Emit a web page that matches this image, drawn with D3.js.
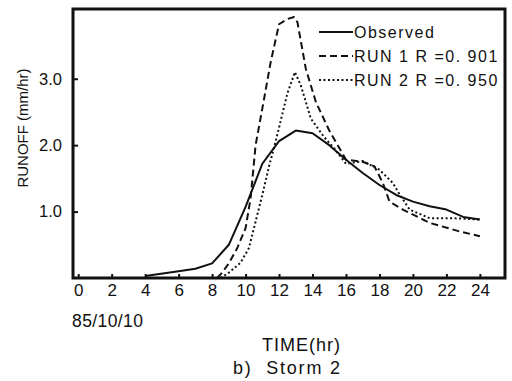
<!DOCTYPE html>
<html>
<head>
<meta charset="utf-8">
<script src="https://cdn.jsdelivr.net/npm/d3@7"></script>
<style>
  body { margin: 0; background: #fff; }
  svg text { font-family: "Liberation Sans", Arial, sans-serif; fill: #111; }
</style>
</head>
<body>
<svg id="chart" width="512" height="381"></svg>
<script>
// hours / runoff (mm/hr)
const observedT = [4, 6, 7, 8, 9, 10, 11, 12, 13, 14, 15, 16, 17, 18, 19, 20, 21, 22, 23, 24];
const observedV = [0.03, 0.1, 0.14, 0.22, 0.5, 1.07, 1.72, 2.06, 2.22, 2.18, 2.0, 1.78, 1.58, 1.4, 1.25, 1.15, 1.08, 1.03, 0.92, 0.88];

const run1T = [8.3, 8.6, 9, 9.5, 10, 10.3, 10.6, 11, 11.5, 12, 12.5, 12.9, 13.1, 13.6, 14.2, 15, 16, 17, 17.7, 18.2, 18.6, 19.4, 21, 22.8, 24];
const run1V = [0, 0.08, 0.22, 0.45, 0.75, 1.2, 2.0, 2.55, 3.25, 3.82, 3.9, 3.93, 3.85, 3.15, 2.65, 2.22, 1.78, 1.75, 1.68, 1.43, 1.15, 1.03, 0.83, 0.7, 0.63];

const run2T = [8.5, 9, 9.7, 10.2, 10.6, 11, 11.4, 11.8, 12.5, 12.95, 13.3, 13.9, 14.7, 15.3, 16, 17, 18, 18.8, 19.2, 19.8, 21, 22.4, 24];
const run2V = [0, 0.08, 0.23, 0.45, 0.85, 1.25, 1.68, 2.06, 2.78, 3.1, 2.9, 2.4, 2.12, 1.95, 1.72, 1.76, 1.63, 1.43, 1.26, 1.03, 0.9, 0.9, 0.88];

const xTicks = [0, 2, 4, 6, 8, 10, 12, 14, 16, 18, 20, 22, 24];
const yTicks = [1.0, 2.0, 3.0];
const legendLabels = ["Observed", "RUN 1 R =0. 901", "RUN 2 R =0. 950"];

const box = { left: 73, top: 9, right: 505, bottom: 278 };
const svg = d3.select("#chart");

const x = d3.scaleLinear().domain([-0.31, 25.5]).range([box.left, box.right]);
const y = d3.scaleLinear().domain([0, 4.05]).range([box.bottom, box.top]);

//Axes (ticks point inward, box drawn separately)
const xAxis = d3.axisBottom(x).tickValues(xTicks).tickSizeInner(-4).tickSizeOuter(0).tickPadding(6);
svg.append("g")
    .attr("transform", `translate(0, ${box.bottom})`)
    .call(xAxis)
    .call(g => g.select(".domain").remove())
    .call(g => g.selectAll(".tick line").attr("stroke", "#111").attr("stroke-width", 2))
    .call(g => g.selectAll(".tick text").attr("font-size", 17).attr("fill", "#111"));

const yAxis = d3.axisLeft(y).tickValues(yTicks).tickFormat(d3.format(".1f")).tickSizeInner(-5).tickSizeOuter(0).tickPadding(11);
svg.append("g")
    .attr("transform", `translate(${box.left}, 0)`)
    .call(yAxis)
    .call(g => g.select(".domain").remove())
    .call(g => g.selectAll(".tick line").attr("stroke", "#111").attr("stroke-width", 2))
    .call(g => g.selectAll(".tick text").attr("font-size", 16.5).attr("fill", "#111"));

svg.append("rect")
    .attr("x", box.left).attr("y", box.top)
    .attr("width", box.right - box.left).attr("height", box.bottom - box.top)
    .attr("fill", "none").attr("stroke", "#111").attr("stroke-width", 3);

//Series
const series = [
    { t: observedT, v: observedV, dash: null, w: 2 },
    { t: run1T, v: run1V, dash: "7,4", w: 2 },
    { t: run2T, v: run2V, dash: "2,2.5", w: 2 },
];
const line = d3.line().x(d => x(d[0])).y(d => y(d[1])).curve(d3.curveLinear);
series.forEach(s => {
    svg.append("path")
        .attr("d", line(d3.zip(s.t, s.v)))
        .attr("fill", "none")
        .attr("stroke", "#111")
        .attr("stroke-width", s.w)
        .attr("stroke-dasharray", s.dash)
        .attr("stroke-linejoin", "round");
});

//Legend
const legend = svg.append("g").attr("transform", "translate(319, 32)");
legendLabels.forEach((lbl, i) => {
    const row = legend.append("g").attr("transform", `translate(0, ${i * 24})`);
    row.append("line")
        .attr("x1", 0).attr("x2", 34).attr("y1", 0).attr("y2", 0)
        .attr("stroke", "#111").attr("stroke-width", 2)
        .attr("stroke-dasharray", series[i].dash);
    row.append("text")
        .attr("x", 35).attr("y", 6)
        .attr("font-size", 16)
        .attr("letter-spacing", 1.5)
        .style("white-space", "pre")
        .text(lbl);
});

//Labels
svg.append("text")
    .attr("transform", "translate(28, 128) rotate(-90)")
    .attr("text-anchor", "middle")
    .attr("font-size", 15)
    .text("RUNOFF (mm/hr)");

svg.append("text").attr("x", 72).attr("y", 327).attr("font-size", 17.5).attr("letter-spacing", 0.4).text("85/10/10");
svg.append("text").attr("x", 262).attr("y", 351).attr("font-size", 18).attr("letter-spacing", 1).text("TIME(hr)");
svg.append("text").attr("x", 233).attr("y", 374).attr("font-size", 18).attr("letter-spacing", 1.8).style("white-space", "pre").text("b)  Storm 2");
</script>
</body>
</html>
